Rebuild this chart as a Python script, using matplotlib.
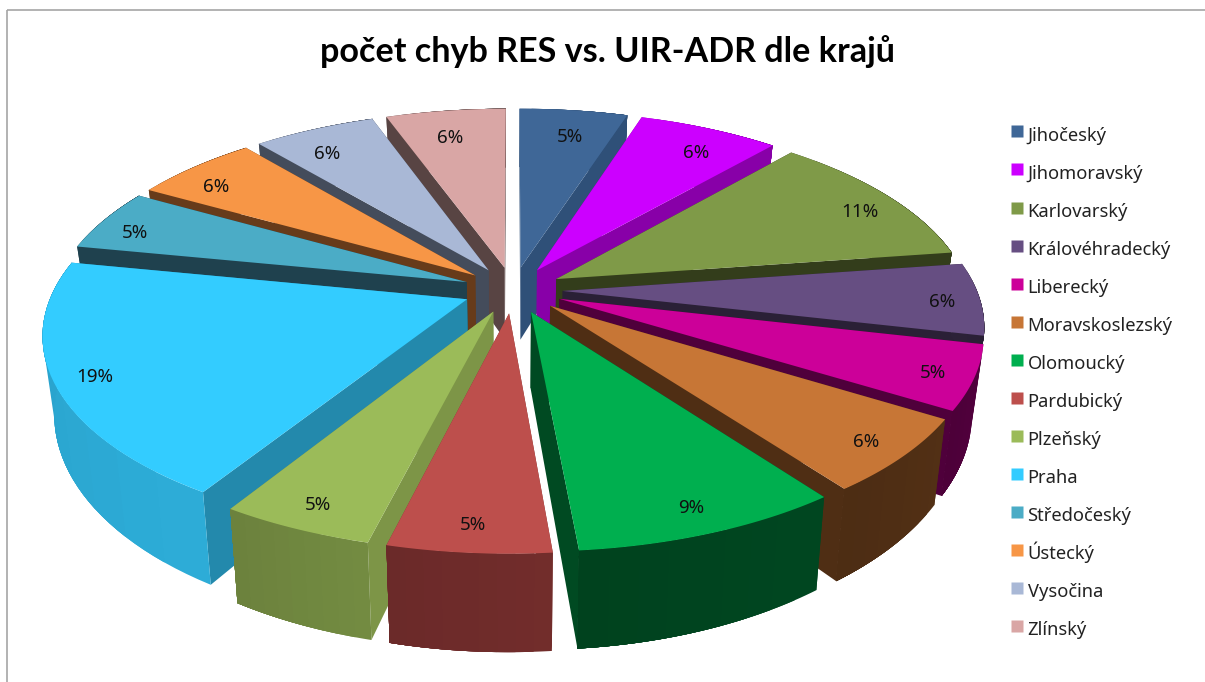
import numpy as np
import matplotlib
matplotlib.use("Agg")
import matplotlib.pyplot as plt
from matplotlib.lines import Line2D
from matplotlib.patches import Rectangle
from matplotlib.colors import to_rgb

title = "počet chyb RES vs. UIR-ADR dle krajů"
regions = ["Jihočeský", "Jihomoravský", "Karlovarský", "Královéhradecký", "Liberecký",
           "Moravskoslezský", "Olomoucký", "Pardubický", "Plzeňský", "Praha",
           "Středočeský", "Ústecký", "Vysočina", "Zlínský"]
values = [4.95, 6.45, 11.3, 5.9, 5.2, 6.05, 8.75, 5.28, 4.97, 19.25, 5.1, 5.7, 5.6, 5.5]
labels = ["5%", "6%", "11%", "6%", "5%", "6%", "9%", "5%", "5%", "19%", "5%", "6%", "6%", "6%"]
top_colors = ["#3F6797", "#CC00FF", "#7F9A48", "#664E82", "#CC0099", "#C77636", "#00AF4F",
              "#BD4F4C", "#9BBB59", "#33CCFF", "#4BACC6", "#F79646", "#A9B8D6", "#D9A6A5"]
wall_colors = ["#2F5078", "#8800A8", "#333D1B", "#2A2036", "#4F003B", "#4F2E14", "#004A22",
               "#7A3230", "#7D9547", "#2389AC", "#1F414E", "#673B1A", "#444C5B", "#584443"]
outer_colors = ["#2F5078", "#8800A8", "#333D1B", "#2A2036", "#4F003B", "#4F2E14", "#00441F",
                "#6E2B2A", "#6F863F", "#2BA6D0", "#1F414E", "#673B1A", "#444C5B", "#584443"]

CX, CY, RX, RY, K, EXPL, DEPTH, SHRINK = 513, 290, 414, 192, 0.165, 0.12, 74, 0.975
BANDS = 9


def project(x, y, z=0.0):
    s = 1.0 / (1.0 - K * y)
    shrink = 1.0 - (1.0 - SHRINK) * z
    return (CX + RX * x * s * shrink, CY + RY * y * s + z * DEPTH * s ** 1.4)


def point(theta, r, phi, z=0.0):
    x = r * np.sin(theta) + EXPL * np.sin(phi)
    y = -r * np.cos(theta) - EXPL * np.cos(phi)
    return project(x, y, z)


def shade(color, f):
    return tuple(min(1, c * f) for c in to_rgb(color))


fig = plt.figure(figsize=(12.05, 6.82), dpi=100, facecolor="white")
ax = fig.add_axes([0, 0, 1, 1])
ax.set_xlim(0, 1205)
ax.set_ylim(682, 0)
ax.axis("off")
ax.add_patch(Rectangle((7, 10), 1300, 800, fill=False, edgecolor="#A6A6A6", linewidth=1.2))

fracs = np.array(values) / np.sum(values)
edges = np.concatenate([[0.0], np.cumsum(fracs)]) * 2 * np.pi
mids = (edges[:-1] + edges[1:]) / 2


def face(pts, color, z):
    ax.fill(*zip(*pts), facecolor=color, edgecolor="none", zorder=z)


def outer_band(i, th, j, phi, z):
    """One shaded band of a wedge's rim, running on to the wedge's end so that no seam shows."""
    f = 1 + 0.07 * (0.5 - j / BANDS)
    span = th[j * 4:]
    pts = [point(t, 1, phi) for t in span] + [point(t, 1, phi, 1) for t in span[::-1]]
    face(pts, shade(outer_colors[i], f), z)


order = sorted(range(len(values)), key=lambda i: -np.cos(mids[i]))
zo = 2
for i in order:
    a0, a1, phi = edges[i], edges[i + 1], mids[i]
    th = np.linspace(a0, a1, BANDS * 4 + 1)
    # rim facing away first, then radial faces, then rim facing the viewer
    if np.cos(phi) > 0:
        for j in range(BANDS):
            outer_band(i, th, j, phi, zo)
    for t in (a0, a1):
        face([point(t, 0, phi), point(t, 1, phi), point(t, 1, phi, 1), point(t, 0, phi, 1)],
             wall_colors[i], zo)
    if np.cos(phi) <= 0:
        for j in range(BANDS):
            outer_band(i, th, j, phi, zo)
    face([point(a0, 0, phi)] + [point(t, 1, phi) for t in th], top_colors[i], zo)
    zo += 1

for i in range(len(values)):
    lx, ly = point(mids[i], 0.87, mids[i])
    lx = CX + 1.04 * (lx - CX)
    ly = ly + 4 + 5 * abs(np.cos(mids[i]))
    ax.text(lx, ly, labels[i], ha="center", va="center", fontsize=13.5, color="#111111",
            family="Noto Sans", zorder=100)

ax.text(608, 52, title, ha="center", va="center", fontsize=24.6, fontweight="bold",
        family="Lato", color="black", zorder=100)

handles = [Line2D([], [], marker="s", markersize=8.6, markerfacecolor=c, markeredgecolor="none",
                  linestyle="none", label=r) for c, r in zip(top_colors, regions)]
fs = 13.2
ax.legend(handles=handles, loc="upper left", bbox_to_anchor=(1005 / 1205, 1 - 122 / 682),
          frameon=False, fontsize=fs, labelspacing=0.66, borderaxespad=0,
          borderpad=0, handlelength=1.35, handleheight=1.8, handletextpad=-0.12,
          prop={"family": "Noto Sans", "size": fs}, labelcolor="#222222")

fig.savefig("out.png", dpi=100, facecolor="white")
